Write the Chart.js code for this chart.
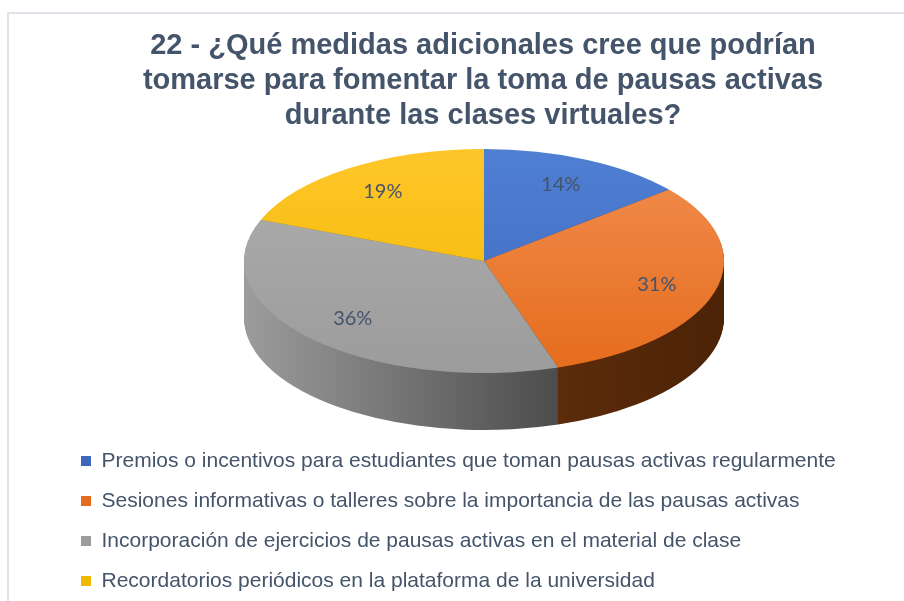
<!DOCTYPE html>
<html>
<head>
<meta charset="utf-8">
<title>Pausas activas</title>
<script src="https://cdn.jsdelivr.net/npm/chart.js"></script>
<style>
  html, body { margin: 0; padding: 0; background: #fff; overflow: hidden; }
  #wrap { position: relative; width: 904px; height: 601px; overflow: hidden; }
  #frame { position: absolute; left: 7px; top: 12px; right: -10px; bottom: -10px;
           border-top: 2px solid #dfe3ea; border-left: 2px solid #dfe3ea; pointer-events: none; }
  canvas { position: absolute; left: 0; top: 0; }
</style>
</head>
<body>
<div id="wrap">
  <canvas id="pie-chart" width="904" height="610"></canvas>
  <div id="frame"></div>
</div>

<script>
// chart data
const titleLines = [
    '22 - ¿Qué medidas adicionales cree que podrían',
    'tomarse para fomentar la toma de pausas activas',
    'durante las clases virtuales?'
];
const categories = [
    'Premios o incentivos para estudiantes que toman pausas activas regularmente',
    'Sesiones informativas o talleres sobre la importancia de las pausas activas',
    'Incorporación de ejercicios de pausas activas en el material de clase',
    'Recordatorios periódicos en la plataforma de la universidad'
];
const percentages = [14, 31, 36, 19];

// colours: top face (light -> dark) and side wall (left -> right)
const topColors = [['#4f7fd3', '#3d69bd'], ['#f28e50', '#e56c1c'], ['#aeaeae', '#9c9c9c'], ['#ffc62a', '#f0b800']];
const sideColors = [['#2f4f8a', '#1f3563'], ['#7a3c12', '#4c2307'], ['#9c9c9c', '#222222'], ['#a67c00', '#6b5000']];
const textColor = '#44546A';

// where the tilted pie sits on the page
const view = { cx: 484, cy: 261, rx: 240, ry: 112, depth: 57, labelAt: 0.75 };

function applyView(ctx, arc) {
    ctx.translate(view.cx, view.cy);
    ctx.scale(view.rx / arc.outerRadius, view.ry / arc.outerRadius);
    ctx.translate(-arc.x, -arc.y);
}

function project(arc, px, py) {
    const k = arc.outerRadius;
    return [view.cx + (px - arc.x) * view.rx / k, view.cy + (py - arc.y) * view.ry / k];
}

// squash the pie into an ellipse and give it a side wall
const pie3d = {
    id: 'pie3d',
    beforeDatasetsDraw(chart) {
        const ctx = chart.ctx;
        const arcs = chart.getDatasetMeta(0).data;
        for (let d = view.depth; d > 0; d--) {
            arcs.forEach((arc, i) => {
                ctx.save();
                ctx.translate(0, d);
                applyView(ctx, arc);
                ctx.beginPath();
                ctx.moveTo(arc.x, arc.y);
                ctx.arc(arc.x, arc.y, arc.outerRadius, arc.startAngle, arc.endAngle);
                ctx.closePath();
                ctx.restore();
                const g = ctx.createLinearGradient(view.cx - view.rx, 0, view.cx + view.rx, 0);
                g.addColorStop(0, sideColors[i][0]);
                g.addColorStop(1, sideColors[i][1]);
                ctx.fillStyle = g;
                ctx.fill();
            });
        }
        ctx.save();
        applyView(ctx, arcs[0]);
    },
    afterDatasetsDraw(chart) {
        const ctx = chart.ctx;
        ctx.restore();
        const arcs = chart.getDatasetMeta(0).data;
        ctx.save();
        ctx.font = '20px Lato';
        ctx.fillStyle = textColor;
        ctx.textAlign = 'center';
        ctx.textBaseline = 'middle';
        arcs.forEach((arc, i) => {
            const mid = (arc.startAngle + arc.endAngle) / 2;
            const r = arc.outerRadius * view.labelAt;
            const [x, y] = project(arc, arc.x + Math.cos(mid) * r, arc.y + Math.sin(mid) * r);
            ctx.fillText(percentages[i] + '%', x, y);
        });
        ctx.restore();
    }
};

function topFill(c) {
    const area = c.chart.chartArea;
    const pair = topColors[c.dataIndex];
    if (!area) return pair[0];
    const g = c.chart.ctx.createLinearGradient(0, area.top, 0, area.bottom);
    g.addColorStop(0, pair[0]);
    g.addColorStop(1, pair[1]);
    return g;
}

new Chart(document.getElementById('pie-chart'), {
    type: 'pie',
    data: {
        labels: categories,
        datasets: [{
            data: percentages,
            backgroundColor: topFill,
            borderWidth: 0,
            clip: false
        }]
    },
    options: {
        responsive: false,
        animation: false,
        events: [],
        layout: { padding: { left: 62, right: 0, top: 0, bottom: 8.5 } },
        plugins: {
            title: {
                display: true,
                text: titleLines,
                color: textColor,
                font: { family: 'Liberation Sans', size: 29, weight: 'bold', lineHeight: 1.2 },
                padding: { top: 29, bottom: 0 }
            },
            legend: {
                position: 'bottom',
                align: 'start',
                labels: {
                    boxWidth: 10,
                    boxHeight: 10,
                    padding: 19,
                    color: textColor,
                    font: { family: 'Liberation Sans', size: 21 }
                }
            },
            tooltip: { enabled: false }
        }
    },
    plugins: [pie3d]
});
</script>
</body>
</html>
